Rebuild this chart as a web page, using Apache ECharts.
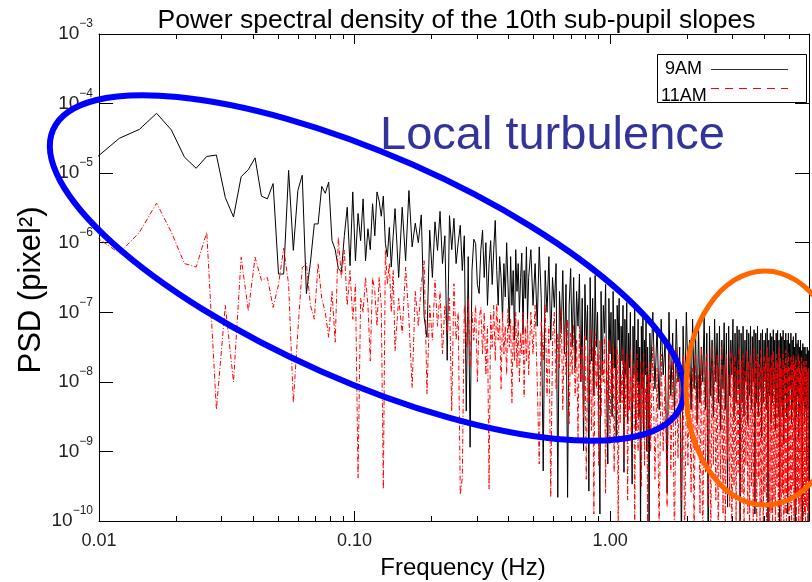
<!DOCTYPE html>
<html><head><meta charset="utf-8">
<script src="https://cdn.jsdelivr.net/npm/echarts@6/dist/echarts.min.js"></script>
<style>html,body{margin:0;padding:0;background:#fff}#c{width:812px;height:582px}</style>
</head><body><div id="c"></div>
<script>
// Frequency grid: FFT bin index * resolution (Hz)
const DF = 0.0024;
// [firstBin, lastBin, step] - bins shown from the spectrum
const binRanges = [[4, 60, 1], [62, 200, 2], [204, 600, 4], [612, 2496, 12]];
const seriesNames = ['9AM', '11AM'];
const xTickValues = [0.01, 0.1, 1];
const xTickLabels = ['0.01', '0.10', '1.00'];
const minorTickValues = [0.02,0.03,0.04,0.05,0.06,0.07,0.08,0.09,0.2,0.3,0.4,0.5,0.6,0.7,0.8,0.9,2,3,4,5];

// log10(PSD), 9AM (black)
const psd9amLog = [
 // bins 4..60
 -4.80,-4.50,-4.37,-4.14,-4.38,-4.77,-4.93,-4.76,-4.74,-5.35,
 -5.63,-5.05,-4.95,-4.78,-5.33,-5.37,-5.15,-6.45,-6.45,-4.96,
 -6.11,-5.25,-5.03,-6.73,-6.28,-5.73,-5.73,-5.19,-5.29,-5.13,
 -5.97,-6.10,-6.37,-6.42,-5.90,-5.49,-6.33,-5.27,-6.26,-5.58,
 -5.97,-5.37,-6.26,-5.80,-6.10,-5.44,-5.90,-5.27,-5.40,-5.62,
 -5.33,-6.01,-6.20,-5.78,-6.35,-5.90,-5.51,
 // bins 62..200
 -6.50,-5.49,-6.26,-5.25,-6.06,-5.72,-6.00,-5.60,-7.07,-7.36,
 -5.82,-6.50,-5.70,-6.11,-5.55,-6.30,-5.90,-7.69,-5.61,-6.10,
 -5.65,-6.30,-6.00,-5.75,-6.40,-5.90,-8.42,-6.20,-8.94,-6.40,
 -5.95,-6.01,-6.60,-6.73,-6.10,-5.82,-6.50,-6.00,-6.90,-6.30,
 -5.97,-6.60,-6.10,-5.68,-6.40,-6.90,-6.20,-6.50,-7.10,-6.30,
 -6.78,-6.00,-6.60,-7.20,-6.20,-6.90,-6.40,-7.40,-6.10,-6.70,
 -6.30,-7.00,-6.50,-6.15,-7.30,-6.40,-6.80,-6.06,-7.10,-6.50,
 // bins 204..600
 -6.10,-6.90,-6.30,-7.20,-6.06,-6.80,-9.28,-6.40,-7.00,-6.20,
 -7.40,-6.50,-6.93,-6.30,-9.66,-6.70,-7.30,-6.40,-7.60,-6.60,
 -9.66,-6.90,-6.37,-7.50,-6.50,-7.80,-6.70,-7.20,-6.45,-8.00,
 -6.80,-8.99,-6.60,-7.40,-6.90,-9.57,-6.50,-7.70,-6.80,-8.20,
 -6.47,-7.50,-7.00,-8.40,-9.90,-6.70,-7.90,-6.90,-7.30,-6.60,
 -8.10,-9.18,-6.80,-7.60,-7.00,-8.50,-6.70,-7.80,-7.10,-8.80,
 -6.90,-7.40,-6.80,-8.30,-7.20,-7.70,-6.90,-9.30,-7.10,-7.90,
 -6.86,-8.60,-7.30,-7.80,-7.00,-8.40,-9.47,-7.20,-7.90,-6.90,
 -8.70,-7.40,-8.00,-7.10,-8.50,-7.50,-10.30,-7.20,-8.10,-7.00,
 -8.80,-7.40,-7.90,-7.10,-9.00,-7.50,-8.20,-10.50,-7.30,-8.00,
 // bins 612..2496
 -7.00,-8.10,-7.20,-8.40,-7.10,-7.90,-7.40,-9.60,-7.00,-8.20,
 -7.30,-8.50,-7.10,-8.00,-7.50,-10.40,-7.20,-8.30,-7.00,-7.90,
 -7.40,-8.40,-7.10,-8.10,-7.30,-8.60,-7.20,-8.30,-7.50,-8.00,
 -7.05,-8.40,-7.30,-10.50,-7.20,-8.20,-7.40,-8.50,-7.10,-8.00,
 -7.30,-8.30,-7.20,-8.70,-7.40,-8.10,-7.15,-8.40,-7.30,-9.80,
 -7.20,-8.20,-7.40,-7.90,-7.10,-8.50,-7.30,-8.30,-7.20,-8.10,
 -7.25,-10.60,-7.30,-8.30,-7.20,-8.50,-7.40,-8.00,-7.25,-8.60,
 -7.30,-8.20,-7.20,-8.40,-7.35,-8.00,-7.25,-9.90,-7.30,-8.30,
 -7.20,-8.50,-7.40,-8.10,-7.30,-8.80,-7.25,-8.30,-7.40,-8.00,
 -7.30,-8.40,-7.23,-10.40,-7.40,-8.20,-7.30,-8.60,-7.35,-8.30,
 -7.25,-8.10,-7.40,-8.70,-7.30,-8.30,-7.26,-8.50,-7.40,-10.50,
 -7.30,-8.30,-7.35,-8.50,-7.26,-8.90,-7.40,-8.20,-7.30,-8.50,
 -7.40,-9.90,-7.30,-8.40,-7.45,-8.10,-7.30,-8.60,-7.40,-8.40,
 -7.35,-8.30,-7.50,-10.40,-7.30,-8.50,-7.45,-8.20,-7.40,-8.80,
 -7.50,-8.40,-7.40,-8.50,-7.55,-10.30,-7.45,-8.30,-7.50,-8.60,
 -7.50,-8.40,-7.60,-9.20,-7.50,-8.40,-7.55,-10.40
];

// log10(PSD), 11AM (red)
const psd11amLog = [
 // bins 4..60
 -5.90,-6.15,-5.85,-5.43,-5.85,-6.30,-6.35,-5.85,-8.40,-6.90,
 -8.00,-6.21,-6.98,-6.21,-6.54,-6.50,-6.93,-6.60,-6.08,-6.60,
 -8.30,-7.27,-6.36,-6.30,-6.90,-7.10,-6.30,-6.80,-7.00,-7.36,
 -6.70,-7.43,-5.92,-6.50,-6.11,-6.90,-6.40,-7.10,-6.60,-9.38,
 -6.80,-7.00,-6.50,-6.90,-7.70,-6.50,-6.70,-7.20,-6.50,-6.90,
 -9.54,-6.11,-6.60,-6.30,-7.00,-6.40,-7.55,
 // bins 62..200
 -6.80,-7.30,-6.35,-7.10,-8.08,-6.70,-7.20,-6.60,-6.26,-8.17,
 -6.90,-7.40,-6.54,-7.20,-6.70,-7.60,-6.90,-7.30,-6.80,-8.42,
 -6.59,-7.40,-7.00,-9.62,-9.38,-6.90,-7.50,-6.80,-7.80,-7.00,
 -7.40,-6.90,-8.00,-7.10,-6.93,-7.60,-7.00,-7.90,-7.20,-9.54,
 -7.00,-7.50,-6.90,-7.70,-6.88,-7.40,-7.10,-8.10,-7.00,-7.60,
 -7.20,-7.90,-6.95,-7.50,-7.10,-8.30,-7.20,-7.70,-7.00,-7.80,
 -7.10,-8.00,-7.30,-7.60,-7.00,-8.22,-7.20,-7.70,-7.10,-7.90,
 // bins 204..600
 -7.00,-7.60,-6.90,-8.00,-9.18,-7.10,-7.70,-6.88,-8.20,-7.20,
 -9.66,-7.40,-7.00,-8.10,-7.30,-7.80,-6.95,-8.40,-7.20,-7.90,
 -7.10,-8.60,-7.30,-7.90,-7.17,-8.20,-7.40,-8.80,-7.20,-8.00,
 -7.50,-8.51,-7.30,-9.40,-7.60,-8.30,-7.25,-8.70,-7.50,-9.90,
 -7.30,-8.10,-7.60,-9.20,-7.40,-8.50,-7.70,-8.00,-7.35,-9.60,
 -7.60,-8.30,-7.40,-8.90,-7.70,-8.20,-7.45,-9.30,-7.80,-8.40,
 -7.50,-10.20,-7.60,-8.60,-7.90,-8.30,-7.50,-9.10,-7.70,-8.50,
 -7.60,-9.70,-7.80,-8.40,-7.55,-8.90,-7.90,-8.30,-7.70,-10.30,
 -7.80,-8.70,-7.60,-9.00,-8.00,-8.50,-7.70,-9.50,-7.90,-8.60,
 -7.60,-9.20,-8.10,-8.40,-7.80,-10.10,-7.90,-8.80,-7.70,-9.00,
 // bins 612..2496
 -7.50,-9.40,-7.80,-10.20,-7.60,-9.00,-7.90,-9.80,-7.40,-9.30,
 -7.70,-10.40,-7.50,-9.10,-7.80,-9.70,-7.60,-10.50,-7.90,-9.20,
 -7.55,-9.60,-7.80,-10.30,-7.60,-9.00,-7.90,-9.90,-7.50,-10.60,
 -7.70,-9.30,-7.60,-9.80,-7.85,-10.40,-7.50,-9.20,-7.70,-9.70,
 -7.60,-10.50,-7.80,-9.40,-7.50,-9.90,-7.75,-10.20,-7.60,-9.10,
 -7.90,-9.80,-7.55,-10.60,-7.70,-9.50,-7.60,-10.00,-7.80,-9.30,
 -7.50,-10.30,-7.70,-9.60,-7.60,-10.50,-7.85,-9.20,-7.55,-9.90,
 -7.70,-10.40,-7.60,-9.50,-7.80,-10.10,-7.50,-9.70,-7.70,-10.60,
 -7.60,-9.40,-7.75,-10.30,-7.55,-9.80,-7.80,-10.50,-7.60,-9.60,
 -7.70,-10.20,-7.50,-9.30,-7.65,-10.60,-7.80,-9.90,-7.60,-10.40,
 -7.55,-9.70,-7.80,-10.50,-7.60,-9.50,-7.70,-10.20,-7.50,-9.80,
 -7.65,-10.60,-7.80,-9.60,-7.60,-10.30,-7.75,-9.90,-7.55,-10.50,
 -7.70,-9.70,-7.60,-10.40,-7.80,-9.80,-7.65,-10.60,-7.70,-9.50,
 -7.60,-10.30,-7.75,-9.90,-7.65,-10.50,-7.80,-9.60,-7.60,-10.20,
 -7.70,-9.80,-7.85,-10.60,-7.65,-9.70,-7.80,-10.40,-7.70,-9.90,
 -7.75,-10.50,-7.70,-9.80,-7.85,-10.30,-7.80,-9.90
];

// ---------- build ----------
const freqs = [];
binRanges.forEach(([a, b, s]) => { for (let k = a; k <= b; k += s) freqs.push(k * DF); });
const data9 = freqs.map((f, i) => [f, Math.pow(10, psd9amLog[i])]);
const data11 = freqs.map((f, i) => [f, Math.pow(10, psd11amLog[i])]);
if (freqs.length !== psd9amLog.length || freqs.length !== psd11amLog.length) console.warn('length mismatch', freqs.length, psd9amLog.length, psd11amLog.length);

const FONT = '"Liberation Sans", Arial, Helvetica, sans-serif';
const X_MIN = 0.01, X_MAX = 6, Y_MIN = 1e-10, Y_MAX = 1e-3;

const chart = echarts.init(document.getElementById('c'), null, {renderer: 'canvas'});
chart.setOption({
  animation: false,
  backgroundColor: '#fff',
  grid: {left: 99, right: -9, top: 34, bottom: 61, containLabel: false},
  xAxis: [{
    type: 'log', logBase: 10, min: X_MIN, max: X_MAX, position: 'bottom',
    axisLine: {show: true, lineStyle: {color: '#000', width: 1}},
    axisTick: {show: true, inside: true, length: 10, lineStyle: {color: '#000'}},
    splitLine: {show: false}, minorTick: {show: false},
    axisLabel: {
      show: true, margin: 11, fontSize: 18, color: '#222', fontFamily: FONT,
      formatter: v => { const i = xTickValues.findIndex(t => Math.abs(t - v) / t < 1e-6); return i >= 0 ? xTickLabels[i] : ''; }
    }
  }, {
    type: 'log', logBase: 10, min: X_MIN, max: X_MAX, position: 'top',
    axisLine: {show: true, lineStyle: {color: '#000', width: 1}},
    axisTick: {show: true, inside: true, length: 10, lineStyle: {color: '#000'}},
    axisLabel: {show: false}, splitLine: {show: false}
  }],
  yAxis: [{
    type: 'log', logBase: 10, min: Y_MIN, max: Y_MAX, position: 'left', splitNumber: 10,
    axisLine: {show: true, lineStyle: {color: '#000', width: 1}},
    axisTick: {show: true, inside: true, length: 14, lineStyle: {color: '#000'}},
    splitLine: {show: false},
    axisLabel: {
      show: true, margin: 6, color: '#222', fontFamily: FONT,
      formatter: v => { const n = Math.round(Math.log10(v)); return '{b|10}{s|\u2212' + (-n) + '}'; },
      rich: {
        b: {fontSize: 19, lineHeight: 32, verticalAlign: 'middle', color: '#222', fontFamily: FONT},
        s: {fontSize: 12, lineHeight: 13, verticalAlign: 'top', color: '#222', fontFamily: FONT}
      }
    }
  }, {
    type: 'log', logBase: 10, min: Y_MIN, max: Y_MAX, position: 'right', splitNumber: 10,
    axisLine: {show: true, lineStyle: {color: '#000', width: 1}},
    axisTick: {show: true, inside: true, length: 14, lineStyle: {color: '#000'}},
    axisLabel: {show: false}, splitLine: {show: false}
  }],
  series: [{
    name: seriesNames[0], type: 'line', data: data9, xAxisIndex: 0, yAxisIndex: 0,
    showSymbol: false, symbol: 'none', clip: true, z: 2,
    lineStyle: {color: '#000', width: 1}
  }, {
    name: seriesNames[1], type: 'line', data: data11, xAxisIndex: 0, yAxisIndex: 0,
    showSymbol: false, symbol: 'none', clip: true, z: 3,
    lineStyle: {color: '#ff0000', width: 1, type: [5, 2, 1, 2]}
  }, {
    name: 'minor ticks', type: 'custom', xAxisIndex: 0, yAxisIndex: 0, silent: true, clip: false, z: 5,
    data: minorTickValues.map(v => [v]),
    encode: {x: 0},
    renderItem: (params, api) => {
      const f = api.value(0);
      const pb = api.coord([f, Y_MIN]);
      const pt = api.coord([f, Y_MAX]);
      const x = Math.round(pb[0]) + 0.5;
      return {type: 'group', children: [
        {type: 'line', shape: {x1: x, y1: pb[1], x2: x, y2: pb[1] - 5}, style: {stroke: '#000', lineWidth: 1}},
        {type: 'line', shape: {x1: x, y1: pt[1], x2: x, y2: pt[1] + 5}, style: {stroke: '#000', lineWidth: 1}}
      ]};
    }
  }],
  graphic: [
    {type: 'text', x: 456.5, y: 21, z: 50,
     style: {text: 'Power spectral density of the 10th sub-pupil slopes', font: '26.5px ' + FONT, fill: '#000', align: 'center', verticalAlign: 'middle'}},
    {type: 'text', x: 463, y: 568, z: 50,
     style: {text: 'Frequency (Hz)', font: '24px ' + FONT, fill: '#000', align: 'center', verticalAlign: 'middle'}},
    {type: 'text', x: 31, y: 290, z: 50, rotation: Math.PI / 2,
     style: {text: 'PSD (pixel\u00b2)', font: '31px ' + FONT, fill: '#000', align: 'center', verticalAlign: 'middle'}},
    // legend box
    {type: 'rect', z: 50, shape: {x: 657.5, y: 54.5, width: 149, height: 48}, style: {fill: '#fff', stroke: '#000', lineWidth: 1}},
    {type: 'text', z: 51, x: 665, y: 69, style: {text: seriesNames[0], font: '18px ' + FONT, fill: '#000', verticalAlign: 'middle'}},
    {type: 'line', z: 51, shape: {x1: 711, y1: 69.5, x2: 788, y2: 69.5}, style: {stroke: '#333', lineWidth: 1}},
    {type: 'text', z: 51, x: 661, y: 96, style: {text: seriesNames[1], font: '18px ' + FONT, fill: '#000', verticalAlign: 'middle'}},
    {type: 'line', z: 51, shape: {x1: 711, y1: 88.5, x2: 788, y2: 88.5}, style: {stroke: '#ff0000', lineWidth: 1, lineDash: [8, 6]}},
    // annotations
    {type: 'ellipse', z: 60, shape: {cx: 367, cy: 268, rx: 343, ry: 113}, originX: 367, originY: 268, rotation: -23.8 * Math.PI / 180,
     style: {fill: null, stroke: '#0000ff', lineWidth: 6}},
    {type: 'ellipse', z: 60, shape: {cx: 765, cy: 388, rx: 79, ry: 117},
     style: {fill: null, stroke: '#ff6600', lineWidth: 5}},
    {type: 'text', z: 61, x: 380, y: 136, style: {text: 'Local turbulence', font: '47px ' + FONT, fill: '#333399', verticalAlign: 'middle'}}
  ]
});
</script>
</body></html>
